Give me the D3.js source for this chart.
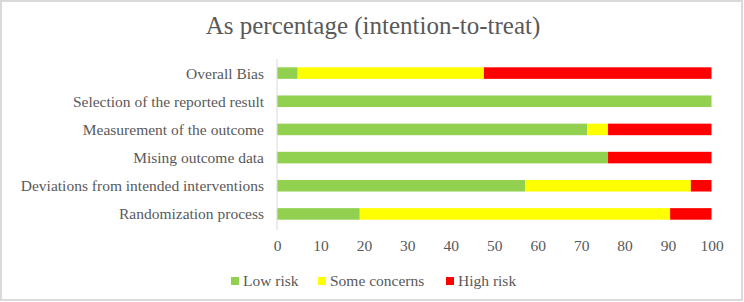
<!DOCTYPE html>
<html>
<head>
<meta charset="utf-8">
<script src="https://cdn.jsdelivr.net/npm/d3@7"></script>
<style>
  html, body { margin: 0; padding: 0; background: #fff; }
  svg { display: block; }
  svg text { font-family: "Liberation Serif", "Times New Roman", serif !important; }
</style>
</head>
<body>
<svg id="chart" width="744" height="302"></svg>
<script>
// domains, top to bottom
const categories = [
  "Overall Bias",
  "Selection of the reported result",
  "Measurement of the outcome",
  "Mising outcome data",
  "Deviations from intended interventions",
  "Randomization process"
];
const lowRisk = [4.76, 100, 71.43, 76.19, 57.14, 19.05];
const someConcerns = [42.86, 0, 4.76, 0, 38.1, 71.43];
const highRisk = [52.38, 0, 23.81, 23.81, 4.76, 9.52];
const seriesNames = ["Low risk", "Some concerns", "High risk"];
const seriesColors = ["#92D050", "#FFFF00", "#FF0000"];
const xTicks = [0, 10, 20, 30, 40, 50, 60, 70, 80, 90, 100];

const svg = d3.select("#chart");
const W = 744, H = 302;
const textColor = "#595959";

// outer frame
svg.append("rect")
  .attr("x", 1).attr("y", 1)
  .attr("width", W - 3).attr("height", H - 3)
  .attr("fill", "#fff")
  .attr("stroke", "#d9d9d9")
  .attr("stroke-width", 2);

svg.append("text")
  .attr("x", 373).attr("y", 34)
  .attr("text-anchor", "middle")
  .attr("fill", textColor)
  .attr("font-size", 25)
  .text("As percentage (intention-to-treat)");

const rows = categories.map((c, i) => ({
  cat: c, vals: [lowRisk[i], someConcerns[i], highRisk[i]]
}));

const x = d3.scaleLinear().domain([0, 100]).range([277, 711.5]);
const y = d3.scaleBand().domain(categories).range([59, 228]).paddingInner(0.59).paddingOuter(0.295);

const g = svg.append("g");
rows.forEach(r => {
  let acc = 0;
  r.vals.forEach((v, k) => {
    if (v > 0) {
      g.append("rect")
        .attr("x", x(acc))
        .attr("y", y(r.cat))
        .attr("width", x(acc + v) - x(acc))
        .attr("height", y.bandwidth())
        .attr("fill", seriesColors[k]);
    }
    acc += v;
  });
});

// vertical category axis line
svg.append("line")
  .attr("x1", x(0)).attr("x2", x(0))
  .attr("y1", 59).attr("y2", 230)
  .attr("stroke", "#d9d9d9").attr("stroke-width", 1);

// category labels
svg.append("g").selectAll("text").data(categories).join("text")
  .attr("x", 264)
  .attr("y", d => y(d) + y.bandwidth() / 2)
  .attr("dy", "0.35em")
  .attr("text-anchor", "end")
  .attr("fill", textColor)
  .attr("font-size", 15.5)
  .text(d => d);

// x axis labels
const xAxis = d3.axisBottom(x).tickValues(xTicks).tickSize(0).tickPadding(0);
const xa = svg.append("g").attr("transform", "translate(0,240)").call(xAxis);
xa.select(".domain").remove();
xa.attr("font-size", null).attr("font-family", null);
xa.selectAll("text")
  .attr("fill", textColor)
  .style("font-size", "15.5px")
  .attr("dy", "0.71em");

// legend
const legendX = [231, 318, 446];
const leg = svg.append("g").selectAll("g").data(seriesNames).join("g")
  .attr("transform", (d, i) => `translate(${legendX[i]},277)`);
leg.append("rect").attr("width", 8).attr("height", 8)
  .attr("fill", (d, i) => seriesColors[i]);
leg.append("text")
  .attr("x", 12).attr("y", 4).attr("dy", "0.35em")
  .attr("fill", textColor).attr("font-size", 15.5)
  .text(d => d);
</script>
</body>
</html>
